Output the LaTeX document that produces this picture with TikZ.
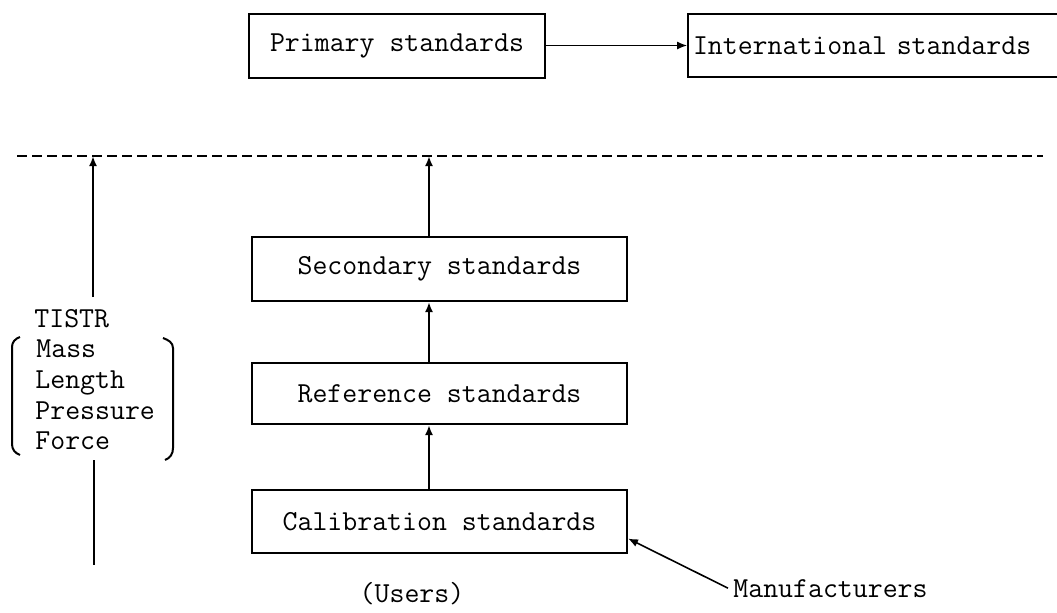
\documentclass[tikz,border=0pt]{standalone}
\usepackage{fontspec}
\usepackage{tikz}
\usetikzlibrary{arrows.meta,positioning,calc}

\newcommand{\stdfont}{\ttfamily\fontsize{14.5}{15.25}\selectfont}
\tikzset{
  stdbox/.style={draw, line width=1pt, inner sep=3pt, minimum width=187.5pt, font=\stdfont},
  uparrow/.style={line width=1.1pt, -{Latex[length=5pt,width=4pt]}},
  sidetext/.style={font=\stdfont, inner sep=0pt, anchor=base west}
}

\begin{document}
\begin{tikzpicture}[x=0.5pt, y=-0.5pt]
    \useasboundingbox (0,0) rectangle (1057,612);

    % Top level
    \node[stdbox, minimum width=148pt, minimum height=32pt] (primary) at (397,45.5) {Primary standards};
    \node[stdbox, anchor=west, minimum height=31.5pt, inner xsep=2.5pt, text width=190pt, align=left] (intl) at (687,45.5) {International standards};
    \draw[line width=0.6pt, -{Latex[length=5pt,width=4pt]}] (primary) -- (intl);

    % Dashed boundary
    \coordinate (dashL) at (17,156);
    \coordinate (dashR) at (1043,156);
    \draw[line width=0.9pt, dash pattern=on 5pt off 2.5pt] (dashL) -- (dashR);

    % Standards chain
    \node[stdbox, minimum height=32pt] (secondary) at (439.5,269) {Secondary standards};
    \node[stdbox, minimum height=30.5pt] (reference) at (439.5,393.5) {Reference standards};
    \node[stdbox, minimum height=31.5pt] (calib) at (439.5,521.5) {Calibration standards};
    \coordinate (chain) at (429,0);
    \draw[uparrow] (chain |- calib.north) -- (chain |- reference.south);
    \draw[uparrow] (chain |- reference.north) -- (chain |- secondary.south);
    \draw[uparrow] (chain |- secondary.north) -- (chain |- dashL);

    % TISTR column
    \node[sidetext] (tistr) at (34,327) {TISTR};
    \node[sidetext] (mass) at (36,357) {Mass};
    \node[sidetext] (length) at (35,388) {Length};
    \node[sidetext] (pressure) at (35,419) {Pressure};
    \node[sidetext] (force) at (35,449) {Force};

    \coordinate (tistrTop) at (93,297);
    \draw[uparrow] (tistrTop) -- (tistrTop |- dashL);
    \coordinate (tistrLow) at (94,460);
    \coordinate (tistrEnd) at (94,565);
    \draw[line width=1.1pt] (tistrLow) -- (tistrEnd);

    % Brackets
    \draw[line width=1pt] (20,337) to[out=200,in=90] (12,347) -- (12,444) to[out=-90,in=160] (20,455);
    \draw[line width=1pt] (163,338) to[out=-20,in=90] (173,348) -- (173,448) to[out=-90,in=20] (165,460);

    % Users and manufacturers
    \node[font=\stdfont] (users) at (412,594) {(Users)};
    \node[sidetext] (manuf) at (733,597) {Manufacturers};
    \draw[line width=0.8pt, -{Latex[length=5pt,width=4pt]}] ([xshift=-2.5pt]manuf.west) -- ([yshift=-8.5pt]calib.east);
\end{tikzpicture}
\end{document}
